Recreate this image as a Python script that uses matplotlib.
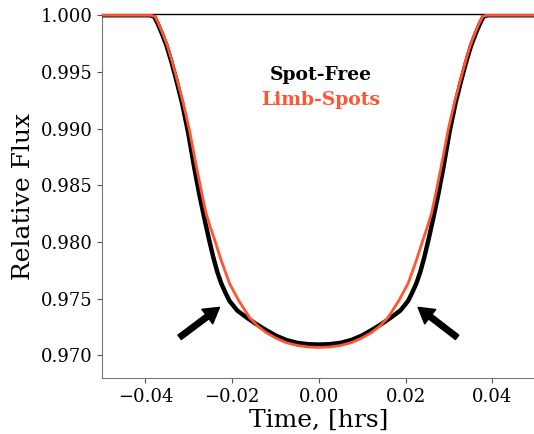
import numpy as np
import matplotlib
matplotlib.use("Agg")
import matplotlib.pyplot as plt

plt.rcParams['font.family'] = 'DejaVu Serif'

# time [hrs] and relative flux
time_free = [-0.0500, -0.0390, -0.0380, -0.0372, -0.0362, -0.0351, -0.0340, -0.0328,
             -0.0315, -0.0301, -0.0287, -0.0275, -0.0264, -0.0253, -0.0243, -0.0234,
             -0.0225, -0.0215, -0.0206, -0.0188, -0.0167, -0.0144, -0.0121, -0.0098,
             -0.0075, -0.0050, -0.0025, 0.0000,
             0.0025, 0.0050, 0.0075, 0.0098, 0.0121, 0.0144, 0.0167, 0.0188,
             0.0206, 0.0215, 0.0225, 0.0234, 0.0243, 0.0253, 0.0264, 0.0275,
             0.0287, 0.0301, 0.0315, 0.0328, 0.0340, 0.0351, 0.0362, 0.0372,
             0.0380, 0.0390, 0.0500]
flux_free = [1.00000, 1.00000, 0.99990, 0.99930, 0.99840, 0.99730, 0.99590, 0.99420,
             0.99220, 0.98960, 0.98650, 0.98410, 0.98210, 0.98020, 0.97860, 0.97735,
             0.97635, 0.97550, 0.97480, 0.97395, 0.97335, 0.97275, 0.97221, 0.97172,
             0.97135, 0.97110, 0.97098, 0.97095,
             0.97098, 0.97110, 0.97135, 0.97172, 0.97221, 0.97275, 0.97335, 0.97395,
             0.97480, 0.97550, 0.97635, 0.97735, 0.97860, 0.98020, 0.98210, 0.98410,
             0.98650, 0.98960, 0.99220, 0.99420, 0.99590, 0.99730, 0.99840, 0.99930,
             0.99990, 1.00000, 1.00000]

time_limb = [-0.0500, -0.0388, -0.0378, -0.0370, -0.0360, -0.0349, -0.0338, -0.0326,
             -0.0313, -0.0299, -0.0283, -0.0271, -0.0260, -0.0250, -0.0240, -0.0225,
             -0.0206, -0.0185, -0.0160, -0.0140, -0.0121, -0.0098, -0.0075, -0.0050,
             -0.0025, 0.0000,
             0.0025, 0.0050, 0.0075, 0.0098, 0.0121, 0.0140, 0.0160, 0.0185,
             0.0206, 0.0225, 0.0240, 0.0250, 0.0260, 0.0271, 0.0283, 0.0299,
             0.0313, 0.0326, 0.0338, 0.0349, 0.0360, 0.0370, 0.0378, 0.0388,
             0.0500]
flux_limb = [1.00000, 1.00000, 0.99990, 0.99930, 0.99840, 0.99730, 0.99590, 0.99420,
             0.99230, 0.99000, 0.98680, 0.98450, 0.98253, 0.98130, 0.98015, 0.97838,
             0.97635, 0.97485, 0.97335, 0.97255, 0.97200, 0.97150, 0.97112, 0.97087,
             0.97074, 0.97070,
             0.97074, 0.97087, 0.97112, 0.97150, 0.97200, 0.97255, 0.97335, 0.97485,
             0.97635, 0.97838, 0.98015, 0.98130, 0.98253, 0.98450, 0.98680, 0.99000,
             0.99230, 0.99420, 0.99590, 0.99730, 0.99840, 0.99930, 0.99990, 1.00000,
             1.00000]

limb_color = '#FF5533'

fig = plt.figure(figsize=(5.34, 4.34), dpi=100)
ax = fig.add_axes([0.191, 0.129, 0.812, 0.838])

ax.plot(time_free, flux_free, color='black', lw=3.2, zorder=3, solid_joinstyle='round')
ax.plot(time_limb, flux_limb, color=limb_color, lw=2.0, zorder=4, solid_joinstyle='round')

# arrows pointing at the ingress/egress kinks
arrow_style = dict(facecolor='black', edgecolor='black', width=4,
                   headwidth=13, headlength=11, shrink=0)
ax.annotate('', xy=(-0.0229, 0.97423), xytext=(-0.0321, 0.97159), arrowprops=arrow_style)
ax.annotate('', xy=(0.0229, 0.97423), xytext=(0.0319, 0.97159), arrowprops=arrow_style)

ax.text(0.0005, 0.9947, 'Spot-Free', ha='center', va='center', fontsize=13.5,
        fontweight='bold', color='black')
ax.text(0.0005, 0.9925, 'Limb-Spots', ha='center', va='center', fontsize=13.5,
        fontweight='bold', color=limb_color)

ax.set_xlim(-0.05, 0.05)
ax.set_ylim(0.968, 1.00008)
ax.set_xticks([-0.04, -0.02, 0.0, 0.02, 0.04])
ax.set_yticks([0.970, 0.975, 0.980, 0.985, 0.990, 0.995, 1.000])
ax.yaxis.set_major_formatter(matplotlib.ticker.FormatStrFormatter('%.3f'))

ax.set_xlabel('Time, [hrs]', fontsize=18, labelpad=2)
ax.set_ylabel('Relative Flux', fontsize=18)
ax.tick_params(labelsize=13, colors='#555555', labelcolor='black')

ax.spines['right'].set_visible(False)
ax.spines['left'].set_color('#777777')
ax.spines['bottom'].set_color('#777777')
ax.spines['top'].set_linewidth(1.0)

fig.savefig('out.png', dpi=100)
